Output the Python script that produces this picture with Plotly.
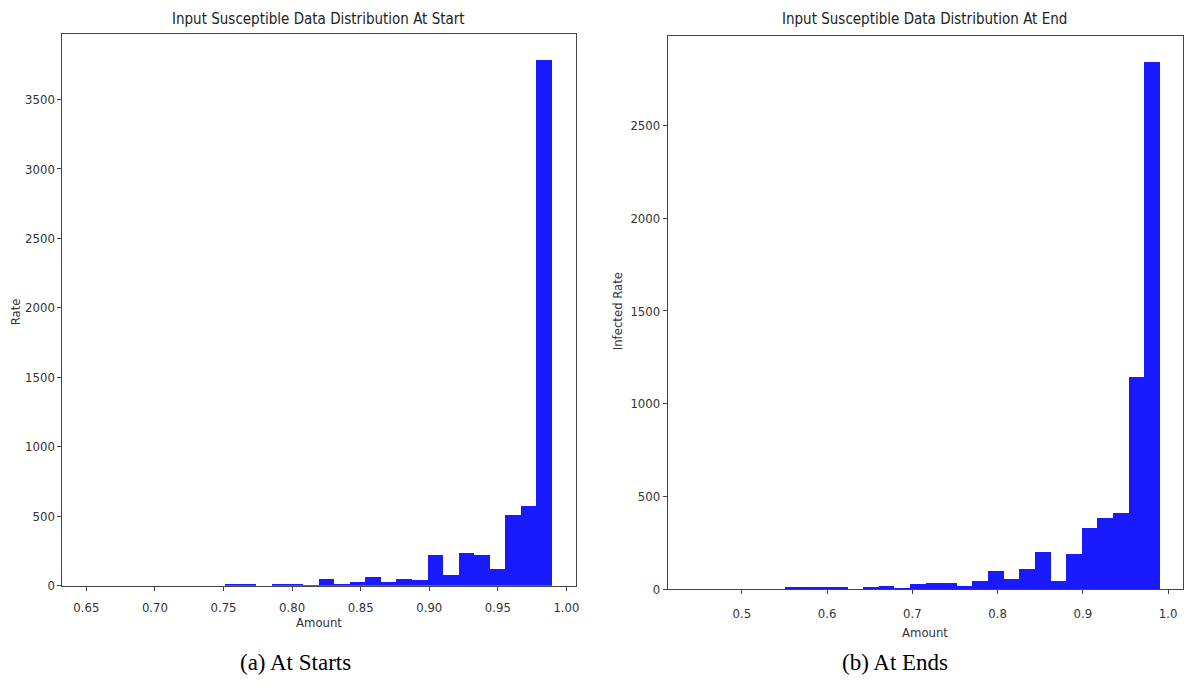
import numpy as np
import plotly.graph_objects as go

# ---- data ----
start_range = [0.6496, 0.9898]
start_counts = [0, 0, 0, 0, 0, 0, 0, 0, 0, 17, 17, 0, 15, 15, 3,
                52, 19, 28, 66, 31, 55, 42, 222, 83, 236, 224, 125, 515, 574, 3785]

end_range = [0.4406, 0.9900]
end_counts = [0, 0, 0, 0, 0, 0, 13, 13, 13, 13, 0, 12, 20, 7, 28,
              37, 37, 20, 44, 101, 55, 110, 201, 44, 194, 330, 384, 412, 1144, 2843]

left_xticks = [0.65, 0.70, 0.75, 0.80, 0.85, 0.90, 0.95, 1.00]
left_yticks = [0, 500, 1000, 1500, 2000, 2500, 3000, 3500]
right_xticks = [0.5, 0.6, 0.7, 0.8, 0.9, 1.0]
right_yticks = [0, 500, 1000, 1500, 2000, 2500]

titles = ["Input Susceptible Data Distribution At Start",
          "Input Susceptible Data Distribution At End"]
xlabels = ["Amount", "Amount"]
ylabels = ["Rate", "Infected Rate"]
captions = ["(a) At Starts", "(b) At Ends"]

BLUE = "#1a1aff"
FONT = "DejaVu Sans Condensed, Liberation Sans Narrow, DejaVu Sans"
W, H = 1188, 689


def hist_trace(rng, counts, xa, ya):
    edges = np.linspace(rng[0], rng[1], len(counts) + 1)
    centers = (edges[:-1] + edges[1:]) / 2
    w = edges[1] - edges[0]
    return go.Bar(x=centers, y=counts, width=w, marker=dict(color=BLUE, line=dict(width=0)),
                  xaxis=xa, yaxis=ya, showlegend=False, hoverinfo="x+y")


def xrange_of(rng):
    d = rng[1] - rng[0]
    return [rng[0] - 0.05 * d, rng[1] + 0.05 * d]


fig = go.Figure()
fig.add_trace(hist_trace(start_range, start_counts, "x", "y"))
fig.add_trace(hist_trace(end_range, end_counts, "x2", "y2"))

axis_common = dict(showline=True, linecolor="#444", linewidth=1, mirror=True,
                   ticks="outside", ticklen=4, tickcolor="#444", showgrid=False,
                   zeroline=False, tickfont=dict(family=FONT, size=13, color="#333"))

fig.update_layout(
    width=W, height=H,
    margin=dict(l=0, r=0, t=0, b=0),
    paper_bgcolor="white", plot_bgcolor="white",
    bargap=0,
    xaxis=dict(domain=[62.7 / W, 577.7 / W], range=xrange_of(start_range),
               tickvals=left_xticks, ticktext=[f"{v:.2f}" for v in left_xticks],
               anchor="y", ticklabelstandoff=6, **axis_common),
    yaxis=dict(domain=[(H - 592.7) / H, (H - 34) / H],
               range=[0, max(start_counts) * 1.05], tickvals=left_yticks, anchor="x",
               **axis_common),
    xaxis2=dict(domain=[670 / W, 1187 / W], range=xrange_of(end_range),
                tickvals=right_xticks, ticktext=[f"{v:.1f}" for v in right_xticks],
                anchor="y2", ticklabelstandoff=8, **axis_common),
    yaxis2=dict(domain=[(H - 596) / H, (H - 36) / H],
                range=[0, max(end_counts) * 1.05], tickvals=right_yticks, anchor="x2",
                **axis_common),
)


def ann(text, x, y, size, family=FONT, color="#222", angle=0):
    return dict(text=text, x=x / W, y=(H - y) / H, xref="paper", yref="paper",
                showarrow=False, font=dict(family=family, size=size, color=color),
                xanchor="center", yanchor="middle", textangle=angle)


SERIF = "Liberation Serif, DejaVu Serif"
annotations = [
    ann(titles[0], 320, 19, 15),
    ann(titles[1], 928, 19, 15),
    ann(xlabels[0], 320, 630, 13, color="#333"),
    ann(xlabels[1], 928, 640, 13, color="#333"),
    ann(ylabels[0], 15, 315, 13, color="#333", angle=-90),
    ann(ylabels[1], 619, 315, 13, color="#333", angle=-90),
    ann(captions[0], 296, 670, 23, family=SERIF, color="#000"),
    ann(captions[1], 898, 670, 23, family=SERIF, color="#000"),
]
fig.update_layout(annotations=annotations)

fig.write_html("out.html")
